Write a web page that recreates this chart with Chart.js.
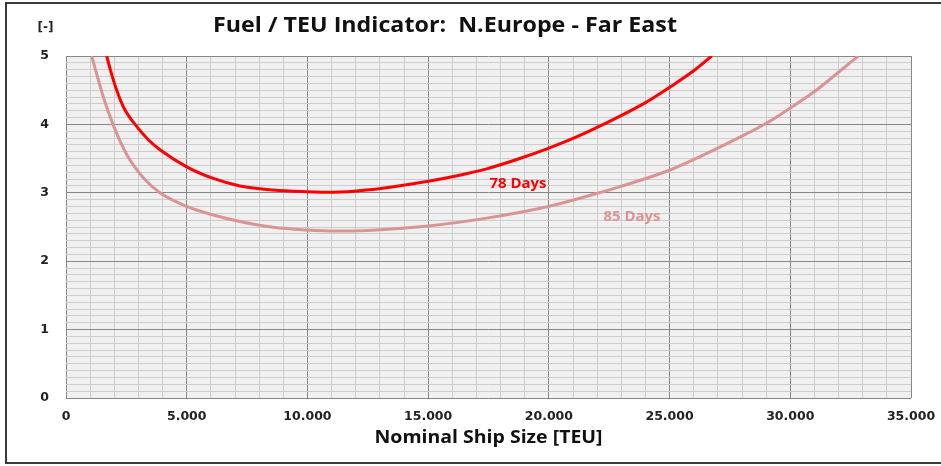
<!DOCTYPE html>
<html>
<head>
<meta charset="utf-8">
<script src="https://cdn.jsdelivr.net/npm/chart.js@4.4.1/dist/chart.umd.min.js"></script>
<style>
  html, body { margin: 0; padding: 0; background: #ffffff; }
  #wrap { width: 941px; height: 466px; position: relative; }
</style>
</head>
<body>
<div id="wrap"><canvas id="c" width="941" height="466"></canvas></div>
<script>
// ---- Data ----
const chartTitle = "Fuel / TEU Indicator:  N.Europe - Far East";
const xAxisTitle = "Nominal Ship Size [TEU]";
const yAxisUnit = "[-]";

const days78TEU  = [1685, 1900, 2100, 2400, 2858, 3400, 3893, 5000, 6102, 7207, 8588, 9970, 11072, 12455, 15007, 16200, 17425, 18700, 19977, 21100, 22256, 23912, 24990, 25984, 26745];
const days78Fuel = [5.00, 4.72, 4.50, 4.24, 4.00, 3.78, 3.63, 3.38, 3.21, 3.10, 3.04, 3.016, 3.007, 3.04, 3.17, 3.25, 3.35, 3.49, 3.65, 3.81, 4.00, 4.30, 4.54, 4.78, 5.00];

const days85TEU  = [1064, 1300, 1546, 1947, 2514, 3202, 3893, 5000, 6102, 7207, 8588, 9970, 11200, 12500, 15007, 17425, 19977, 21980, 22945, 24990, 26263, 27500, 29026, 29986, 31000, 31780, 32816];
const days85Fuel = [5.00, 4.70, 4.40, 4.00, 3.56, 3.22, 3.00, 2.80, 2.675, 2.58, 2.495, 2.456, 2.44, 2.45, 2.515, 2.63, 2.80, 2.99, 3.09, 3.33, 3.53, 3.74, 4.02, 4.235, 4.48, 4.70, 5.00];

const seriesNames  = ["78 Days", "85 Days"];
const labelTEU     = [18722, 23440];
const labelFuel    = [3.13, 2.65];

const xTickValues = [0, 5000, 10000, 15000, 20000, 25000, 30000, 35000];
const yTickValues = [0, 1, 2, 3, 4, 5];

// ---- Styles ----
const RED = "#ff0000";
const PINK = "#d99594";
const MAJOR = "#878787";
const MINOR = "#cdcdcd";

function toPoints(xs, ys) { return xs.map((x, i) => ({ x: x, y: ys[i] })); }
function fmtThousands(v) {
  return String(v).replace(/\B(?=(\d{3})+(?!\d))/g, ".");
}
// draw text centred at (cx, cy), stretched horizontally to a target width
function fitText(ctx, text, cx, cy, targetW) {
  const w = ctx.measureText(text).width;
  const k = targetW / w;
  ctx.save();
  ctx.translate(cx, cy);
  ctx.scale(k, 1);
  ctx.fillText(text, 0, 0);
  ctx.restore();
}

const decorPlugin = {
  id: "decor",
  beforeDraw(chart) {
    const { ctx, chartArea: a } = chart;
    ctx.save();
    ctx.fillStyle = "#ffffff";
    ctx.fillRect(0, 0, chart.width, chart.height);
    ctx.fillStyle = "#f0f0f0";
    ctx.fillRect(a.left, a.top, a.right - a.left, a.bottom - a.top);
    ctx.restore();
  },
  afterDraw(chart) {
    const { ctx } = chart;
    const xs = chart.scales.x, ys = chart.scales.y;
    ctx.save();
    // frame
    ctx.strokeStyle = "#3a3a3a";
    ctx.lineWidth = 2;
    ctx.strokeRect(6, 3, 945, 460);
    ctx.textAlign = "center";
    ctx.textBaseline = "middle";
    // title
    ctx.fillStyle = "#111111";
    ctx.font = "bold 21px 'Open Sans'";
    fitText(ctx, chartTitle, 445, 26, 464);
    // unit
    ctx.font = "bold 12px 'DejaVu Sans'";
    ctx.fillStyle = "#222222";
    ctx.fillText(yAxisUnit, 45.5, 28);
    // x axis title
    ctx.font = "bold 17px 'Open Sans'";
    ctx.fillStyle = "#111111";
    fitText(ctx, xAxisTitle, (chart.chartArea.left + chart.chartArea.right) / 2, 438.5, 228);
    // series labels
    const cols = [RED, PINK];
    ctx.font = "bold 13.5px 'Open Sans'";
    for (let i = 0; i < seriesNames.length; i++) {
      ctx.fillStyle = cols[i];
      fitText(ctx, seriesNames[i], xs.getPixelForValue(labelTEU[i]), ys.getPixelForValue(labelFuel[i]), 57);
    }
    ctx.restore();
  }
};

const tickFont = { family: "'DejaVu Sans'", size: 12.5, weight: "bold" };

new Chart(document.getElementById("c"), {
  type: "scatter",
  data: {
    datasets: [
      {
        label: seriesNames[0],
        data: toPoints(days78TEU, days78Fuel),
        showLine: true,
        borderColor: RED,
        backgroundColor: RED,
        borderWidth: 3,
        pointRadius: 0,
        cubicInterpolationMode: "monotone"
      },
      {
        label: seriesNames[1],
        data: toPoints(days85TEU, days85Fuel),
        showLine: true,
        borderColor: PINK,
        backgroundColor: PINK,
        borderWidth: 3,
        pointRadius: 0,
        cubicInterpolationMode: "monotone"
      }
    ]
  },
  options: {
    responsive: false,
    devicePixelRatio: 1,
    animation: false,
    events: [],
    layout: { padding: { top: 56, left: 0, right: 30, bottom: 0 } },
    plugins: { legend: { display: false }, title: { display: false }, tooltip: { enabled: false } },
    scales: {
      x: {
        type: "linear",
        min: 0, max: 35000,
        afterFit(s) { s.height = 68; s.paddingLeft = 0; s.paddingRight = 0; },
        afterBuildTicks(s) {
          const t = [];
          for (let v = 0; v <= 35000; v += 1000) t.push({ value: v });
          s.ticks = t;
        },
        ticks: {
          autoSkip: false, maxRotation: 0, minRotation: 0, padding: 11,
          color: "#222222", font: tickFont,
          callback(v) { return xTickValues.includes(v) ? fmtThousands(v) : ""; }
        },
        grid: {
          drawTicks: false,
          color(ctx) { return ctx.tick && ctx.tick.value % 5000 === 0 ? MAJOR : MINOR; },
          lineWidth: 1
        },
        border: { display: false }
      },
      y: {
        min: 0, max: 5,
        afterFit(s) { s.width = 66; s.paddingTop = 0; s.paddingBottom = 0; },
        afterBuildTicks(s) {
          const t = [];
          for (let i = 0; i <= 50; i++) t.push({ value: i / 10 });
          s.ticks = t;
        },
        ticks: {
          autoSkip: false, padding: 17,
          color: "#222222", font: tickFont,
          callback(v) {
            const r = Math.round(v * 10);
            return r % 10 === 0 && yTickValues.includes(r / 10) ? String(r / 10) : "";
          }
        },
        grid: {
          drawTicks: false,
          color(ctx) { return ctx.tick && Math.round(ctx.tick.value * 10) % 10 === 0 ? MAJOR : MINOR; },
          lineWidth: 1
        },
        border: { display: false }
      }
    }
  },
  plugins: [decorPlugin]
});
</script>
</body>
</html>
